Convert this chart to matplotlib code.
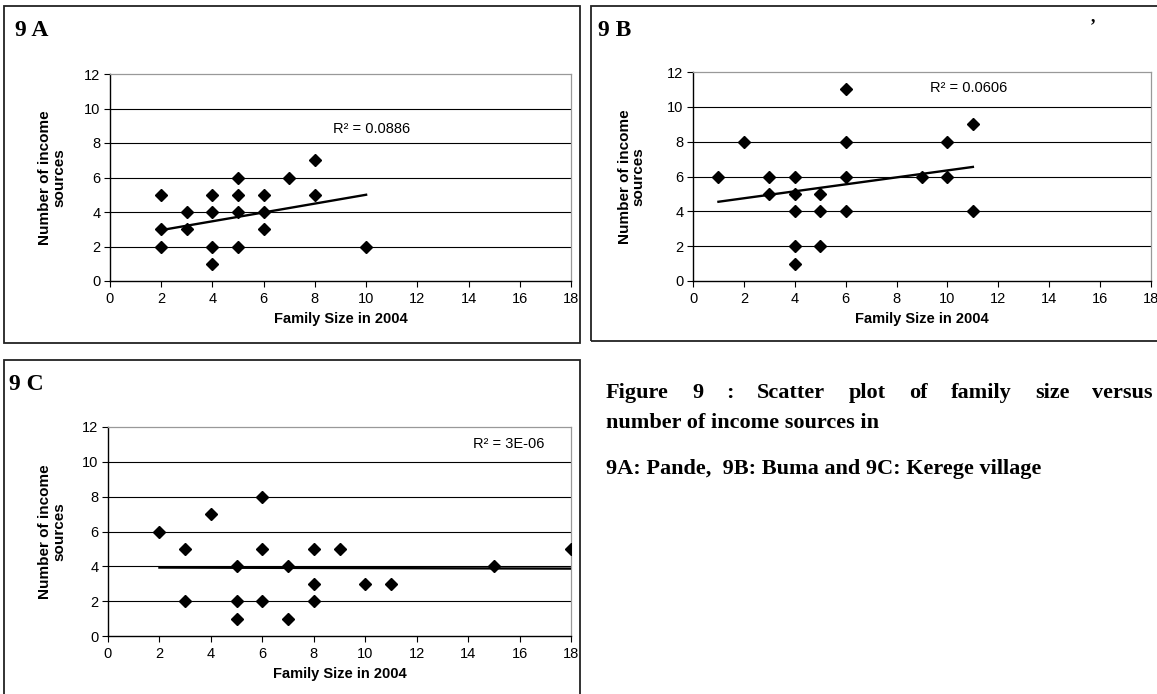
import matplotlib
matplotlib.use("Agg")
import matplotlib.pyplot as plt
from matplotlib.patches import Rectangle
import numpy as np

# family size (x) and number of income sources (y) per village
pande_size = [2, 2, 2, 3, 3, 4, 4, 4, 4, 5, 5, 5, 5, 6, 6, 6, 7, 8, 8, 10]
pande_income = [5, 3, 2, 4, 3, 5, 4, 2, 1, 6, 5, 4, 2, 5, 4, 3, 6, 7, 5, 2]

buma_size = [1, 2, 3, 3, 4, 4, 4, 4, 4, 5, 5, 5, 6, 6, 6, 6, 9, 10, 10, 11, 11]
buma_income = [6, 8, 6, 5, 6, 5, 4, 2, 1, 5, 4, 2, 11, 8, 6, 4, 6, 8, 6, 9, 4]

kerege_size = [2, 3, 3, 4, 5, 5, 5, 6, 6, 6, 7, 7, 8, 8, 8, 9, 10, 11, 15, 18]
kerege_income = [6, 5, 2, 7, 4, 2, 1, 8, 5, 2, 4, 1, 5, 3, 2, 5, 3, 3, 4, 5]

# linear trend lines (end points) and their R^2 labels
pande_trend_x, pande_trend_y = [2, 10], [2.95, 5.0]
buma_trend_x, buma_trend_y = [1, 11], [4.55, 6.55]
kerege_trend_x, kerege_trend_y = [2, 18], [3.93, 3.87]
r2_labels = ["0.0886", "0.0606", "3E-06"]
r2_pos = [(8.7, 8.8), (9.3, 11.1), (14.2, 11.0)]

panel_titles = ["9 A", "9 B", "9 C"]
xticks = np.arange(0, 19, 2)
yticks = np.arange(0, 13, 2)

caption_line1 = "Figure 9 : Scatter plot of family size versus"
caption_line2 = "number of income sources in"
caption_line3 = "9A: Pande,  9B: Buma and 9C: Kerege village"

W, H = 1157, 694
fig = plt.figure(figsize=(W / 100, H / 100), dpi=100)
fig.patch.set_facecolor("white")

sans = ["Liberation Sans", "DejaVu Sans"]
serif = ["Liberation Serif", "DejaVu Serif"]


def px_axes(left, top, right, bottom):
    return fig.add_axes([left / W, 1 - bottom / H, (right - left) / W, (bottom - top) / H])


def frame(left, top, right, bottom):
    fig.add_artist(Rectangle((left / W, 1 - bottom / H), (right - left) / W, (bottom - top) / H,
                             transform=fig.transFigure, fill=False, ec="#222222", lw=1.3))


def scatter_panel(ax, xs, ys, tx, ty, r2, r2xy, ylab_x):
    ax.set_xlim(0, 18)
    ax.set_ylim(0, 12)
    ax.set_xticks(xticks)
    ax.set_yticks(yticks)
    ax.hlines(yticks[1:-1], 0, 18, colors="black", lw=0.8, zorder=1)
    ax.plot(xs, ys, ls="none", marker="D", ms=6, color="black", zorder=3)
    ax.plot(tx, ty, color="black", lw=1.7, zorder=4)
    ax.text(r2xy[0], r2xy[1], "R\u00b2 = " + r2, fontsize=10.5, family=sans, va="center")
    for s in ["top", "right"]:
        ax.spines[s].set_color("#999999")
        ax.spines[s].set_linewidth(0.9)
    for s in ["left", "bottom"]:
        ax.spines[s].set_color("black")
        ax.spines[s].set_linewidth(1.0)
    ax.tick_params(direction="out", length=4, width=0.8, labelsize=10.5)
    ax.tick_params(axis="y", pad=3)
    ax.tick_params(axis="x", pad=4)
    for lbl in ax.get_xticklabels() + ax.get_yticklabels():
        lbl.set_family(sans)
    h = ax.get_position().height * H
    ax.set_xlabel("Family Size in 2004", fontsize=10.5, fontweight="bold", family=sans)
    ax.xaxis.set_label_coords(0.5, -31 / h)
    ax.set_ylabel("Number of income\nsources", fontsize=11, fontweight="bold", family=sans,
                  linespacing=1.0)
    ax.yaxis.set_label_coords(ylab_x, 0.5)


# panel frames
frame(4, 6, 580, 343)
frame(591, 6, 1162, 341)
frame(4, 360, 580, 700)

ax_a = px_axes(110, 74, 571, 281)
scatter_panel(ax_a, pande_size, pande_income, pande_trend_x, pande_trend_y,
              r2_labels[0], r2_pos[0], -0.095)
ax_b = px_axes(693, 72, 1151, 281)
scatter_panel(ax_b, buma_size, buma_income, buma_trend_x, buma_trend_y,
              r2_labels[1], r2_pos[1], -0.103)
ax_c = px_axes(108, 427, 571, 636)
scatter_panel(ax_c, kerege_size, kerege_income, kerege_trend_x, kerege_trend_y,
              r2_labels[2], r2_pos[2], -0.09)

# panel letters
for (x, y), t in zip([(15, 30), (598, 30), (9, 384)], panel_titles):
    fig.text(x / W, 1 - y / H, t, fontsize=17, fontweight="bold", family=serif, va="center")
fig.text(1090 / W, 1 - 27 / H, "\u2019", fontsize=13, fontweight="bold", family=serif, va="center")

# caption, first line justified across the column
cap_size = 16
cap_left, cap_right = 606, 1153
renderer = fig.canvas.get_renderer()
words = caption_line1.split()
tmp = [fig.text(0, 0, w, fontsize=cap_size, fontweight="bold", family=serif) for w in words]
widths = [t.get_window_extent(renderer).width for t in tmp]
for t in tmp:
    t.remove()
gap = (cap_right - cap_left - sum(widths)) / (len(words) - 1)
x = cap_left
for w, wd in zip(words, widths):
    fig.text(x / W, 1 - 393 / H, w, fontsize=cap_size, fontweight="bold", family=serif,
             va="center")
    x += wd + gap
fig.text(cap_left / W, 1 - 423 / H, caption_line2, fontsize=cap_size, fontweight="bold",
         family=serif, va="center")
fig.text(cap_left / W, 1 - 469 / H, caption_line3, fontsize=cap_size, fontweight="bold",
         family=serif, va="center")

fig.savefig("out.png", dpi=100, facecolor="white")
